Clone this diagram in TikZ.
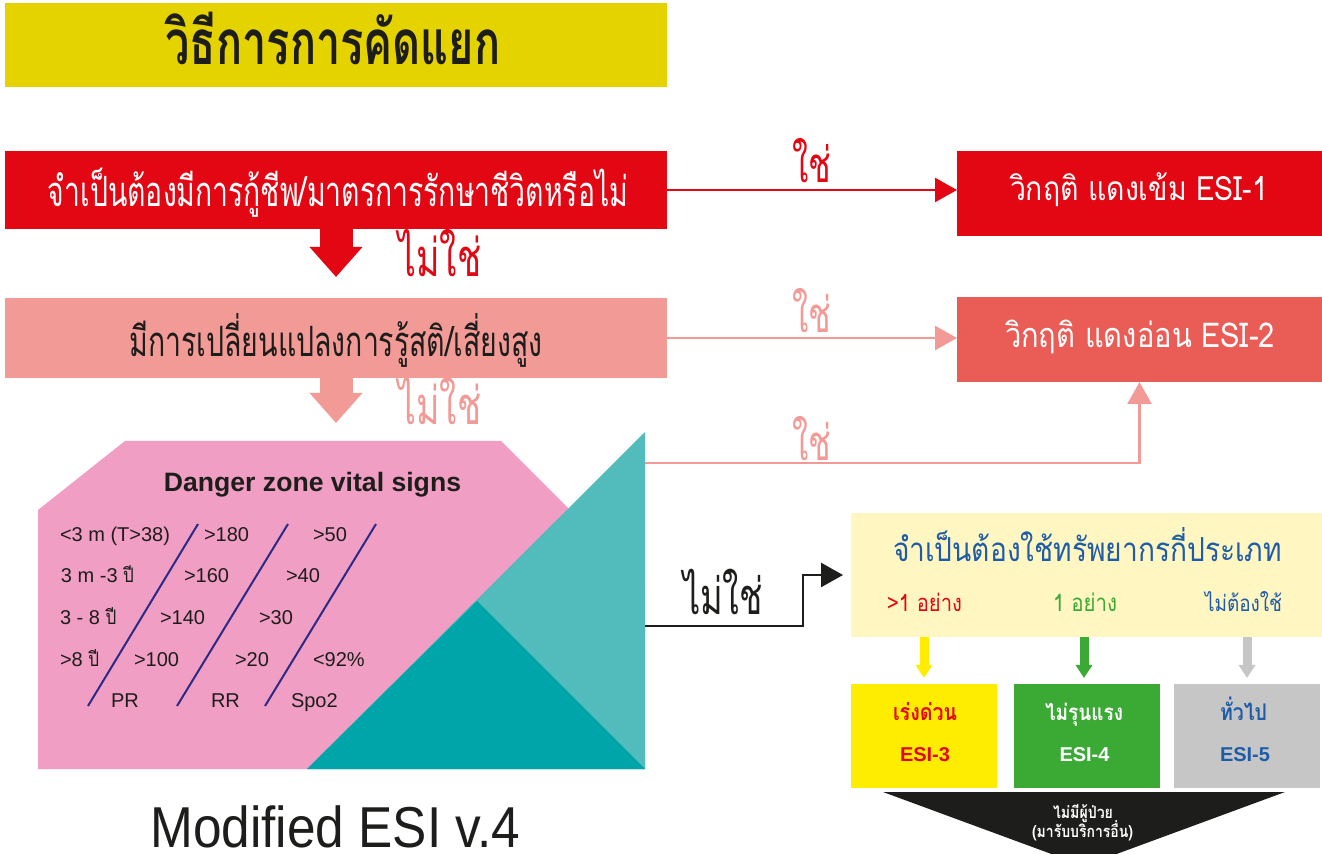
\documentclass[tikz,border=0pt]{standalone}
\usepackage{fontspec}
\usepackage{graphicx}
\setmainfont{Liberation Sans}
\newfontfamily\thaiC[Script=Thai,FakeStretch=0.68]{Loma}
\newfontfamily\thaiR[Script=Thai,FakeStretch=0.85]{Loma}
\newfontfamily\thaiT[Script=Thai,FakeStretch=0.7]{Loma}
\newfontfamily\narrowsans[FakeStretch=0.89]{Liberation Sans}
\usetikzlibrary{arrows.meta,calc}
\definecolor{titleyellow}{HTML}{E5D300}
\definecolor{redA}{HTML}{E30613}
\definecolor{pinkB}{HTML}{F29A96}
\definecolor{esiTwo}{HTML}{EA5D56}
\definecolor{pinkhex}{HTML}{F19EC4}
\definecolor{tealL}{HTML}{52BCBD}
\definecolor{tealD}{HTML}{00A5AA}
\definecolor{navy}{HTML}{2B2A86}
\definecolor{resbg}{HTML}{FFF6C1}
\definecolor{ybox}{HTML}{FFED00}
\definecolor{gbox}{HTML}{3BAA35}
\definecolor{greybox}{HTML}{C6C6C6}
\definecolor{bluetxt}{HTML}{1E5CA8}
\definecolor{ink}{HTML}{1D1D1B}
\newcommand\fitw[2]{\resizebox{#1}{!}{#2}}
\tikzset{
  box/.style={inner sep=0, outer sep=0, draw=none},
  lbl/.style={inner sep=0, outer sep=0, anchor=base},
  lblw/.style={inner sep=0, outer sep=0, anchor=base west, text=ink, font=\fontsize{10pt}{12pt}\selectfont},
  blockarrow/.style={line width=16.5pt, -{Triangle[length=15pt,width=25.5pt]}},
  thinarrow/.style={line width=1.3pt, -{Triangle[length=11pt,width=12pt]}},
  smallarrow/.style={line width=4.5pt, -{Triangle[length=6.5pt,width=8pt]}, shorten >=3pt},
}
\begin{document}
\begin{tikzpicture}[x=0.5pt,y=-0.5pt]
\useasboundingbox (0,0) rectangle (1322,854);
\clip (0,0) rectangle (1322,854);
% title
\node[box, fill=titleyellow, minimum width=331pt, minimum height=42pt] (title) at (336,45) {};
\node[lbl] (titletxt) at (333,65) {\fitw{167.5pt}{\color{ink}\thaiT\bfseries วิธีการการคัดแยก}};
% step boxes
\node[box, fill=redA, minimum width=331pt, minimum height=39pt] (b1) at (336,190) {};
\node[lbl] (b1txt) at (338,207) {\fitw{290pt}{\color{white}\thaiC จำเป็นต้องมีการกู้ชีพ/มาตรการรักษาชีวิตหรือไม่}};
\node[box, fill=pinkB, minimum width=331pt, minimum height=40pt] (b2) at (336,338) {};
\node[lbl] (b2txt) at (336,357) {\fitw{206.5pt}{\color{ink}\thaiC มีการเปลี่ยนแปลงการรู้สติ/เสี่ยงสูง}};
% down block arrows
\coordinate (a1end) at (336,277);
\coordinate (a2end) at (336,423);
\draw[blockarrow, draw=redA] (b1.south) -- (a1end);
\draw[blockarrow, draw=pinkB] (b2.south) -- (a2end);
\node[lbl] (no1) at (440,277) {\fitw{41.5pt}{\color{redA}\thaiC ไม่ใช่}};
\node[lbl] (no2) at (440,425) {\fitw{41.5pt}{\color{pinkB}\thaiC ไม่ใช่}};
% ESI 1,2
\node[box, fill=redA, minimum width=182.5pt, minimum height=42.5pt] (esi1) at (1139.5,193.5) {};
\node[lbl] (esi1txt) at (1139,201) {\fitw{129pt}{\color{white}\thaiR วิกฤติ แดงเข้ม ESI-1}};
\node[box, fill=esiTwo, minimum width=182.5pt, minimum height=42.5pt] (esi2) at (1139.5,339.5) {};
\node[lbl] (esi2txt) at (1140,348) {\fitw{135pt}{\color{white}\thaiR วิกฤติ แดงอ่อน ESI-2}};
\draw[thinarrow, draw=redA] (b1.east) -- (b1.east -| esi1.west);
\draw[thinarrow, draw=pinkB] (b2.east) -- (b2.east -| esi2.west);
\node[lbl] (yes1) at (811.5,183) {\fitw{19.5pt}{\color{redA}\thaiC ใช่}};
\node[lbl] (yes2) at (811.5,333) {\fitw{19.5pt}{\color{pinkB}\thaiC ใช่}};
\node[lbl] (yes3) at (811.5,461) {\fitw{19.5pt}{\color{pinkB}\thaiC ใช่}};
% danger zone shape
\fill[pinkhex] (38,510) -- (125,441) -- (501,441) -- (645,585) -- (645,769) -- (38,769) -- cycle;
\fill[tealL] (645,432) -- (645,769) -- (307,769) -- cycle;
\fill[tealD] (477,601) -- (645,769) -- (307,769) -- cycle;
\coordinate (tealR) at (645,463);
\coordinate (tealB) at (645,626);
\coordinate (bend) at (803,626);
\draw[thinarrow, draw=pinkB] (tealR) -| (esi2.south);
\node[lbl] (dz) at (312.5,492) {\fontsize{13.3pt}{15pt}\selectfont\bfseries\color{ink}Danger zone vital signs};
% table
\node[lblw] (r1) at (60,542) {<3 m (T>38)};
\node[lblw] (r2) at (61,583) {3 m -3 {\thaiR ปี}};
\node[lblw] (r3) at (60,625) {3 - 8 {\thaiR ปี}};
\node[lblw] (r4) at (60,667) {>8 {\thaiR ปี}};
\node[lblw] (p1) at (204,542) {>180};
\node[lblw] (p2) at (184,583) {>160};
\node[lblw] (p3) at (160,625) {>140};
\node[lblw] (p4) at (134,667) {>100};
\node[lblw] (pr) at (111,708) {PR};
\node[lblw] (q1) at (313,542) {>50};
\node[lblw] (q2) at (286,583) {>40};
\node[lblw] (q3) at (259,625) {>30};
\node[lblw] (q4) at (235,667) {>20};
\node[lblw] (rr) at (211,708) {RR};
\node[lblw] (s4) at (313,667) {<92\%};
\node[lblw] (sp) at (291,708) {Spo2};
\draw[navy, line width=1pt] (198,524) -- (88,706);
\draw[navy, line width=1pt] (288,524) -- (177,706);
\draw[navy, line width=1pt] (376,524) -- (265,706);
% resources
\node[box, fill=resbg, minimum width=235.5pt, minimum height=62pt] (res) at (1086.5,575) {};
\draw[thinarrow, draw=ink, shorten >=4pt] (tealB) -- (bend) |- (res.west);
\node[lbl] (notxt) at (723,615) {\fitw{40pt}{\color{ink}\thaiC ไม่ใช่}};
\node[lbl] (restxt) at (1087.5,562) {\fitw{194.5pt}{\color{bluetxt}\thaiR จำเป็นต้องใช้ทรัพยากรกี่ประเภท}};
\node[lbl] (o1) at (924.5,612) {\fitw{37.5pt}{\color{redA}\thaiR >1 อย่าง}};
\node[lbl] (o2) at (1085,612) {\fitw{32pt}{\color{gbox}\thaiR 1 อย่าง}};
\node[lbl] (o3) at (1243.5,612) {\fitw{38.5pt}{\color{bluetxt}\thaiR ไม่ต้องใช้}};
\node[box, fill=ybox, minimum width=73pt, minimum height=52pt] (e3) at (924,736) {};
\node[box, fill=gbox, minimum width=73pt, minimum height=52pt] (e4) at (1087,736) {};
\node[box, fill=greybox, minimum width=73pt, minimum height=52pt] (e5) at (1247,736) {};
\draw[smallarrow, draw=ybox] (res.south -| e3.north) -- (e3.north);
\draw[smallarrow, draw=gbox] (res.south -| 1084,0) -- (e4.north -| 1084,0);
\draw[smallarrow, draw=greybox] (res.south -| e5.north) -- (e5.north);
\node[lbl] (e3a) at (925,720) {\fitw{32pt}{\color{redA}\thaiR\bfseries เร่งด่วน}};
\node[lbl] (e3b) at (925,762) {\fontsize{10pt}{12pt}\selectfont\bfseries\color{redA}ESI-3};
\node[lbl] (e4a) at (1084,720) {\fitw{39pt}{\color{white}\thaiR\bfseries ไม่รุนแรง}};
\node[lbl] (e4b) at (1084.5,762) {\fontsize{10pt}{12pt}\selectfont\bfseries\color{white}ESI-4};
\node[lbl] (e5a) at (1243.5,720) {\fitw{23.5pt}{\color{bluetxt}\thaiR\bfseries ทั่วไป}};
\node[lbl] (e5b) at (1245,762) {\fontsize{10pt}{12pt}\selectfont\bfseries\color{bluetxt}ESI-5};
% bottom black funnel
\fill[ink] (883,792) -- (1285,792) -- (1084,866) -- cycle;
\node[lbl] (f1) at (1083,818) {\fitw{30pt}{\color{white}\thaiR\bfseries ไม่มีผู้ป่วย}};
\node[lbl] (f2) at (1082.5,837) {\fitw{50.5pt}{\color{white}\thaiR\bfseries (มารับบริการอื่น)}};
% caption
\node[inner sep=0, anchor=base west] (cap) at (150,847) {\fitw{185pt}{\color{ink}\narrowsans\fontsize{29pt}{30pt}\selectfont Modified ESI v.4}};
\end{tikzpicture}
\end{document}
